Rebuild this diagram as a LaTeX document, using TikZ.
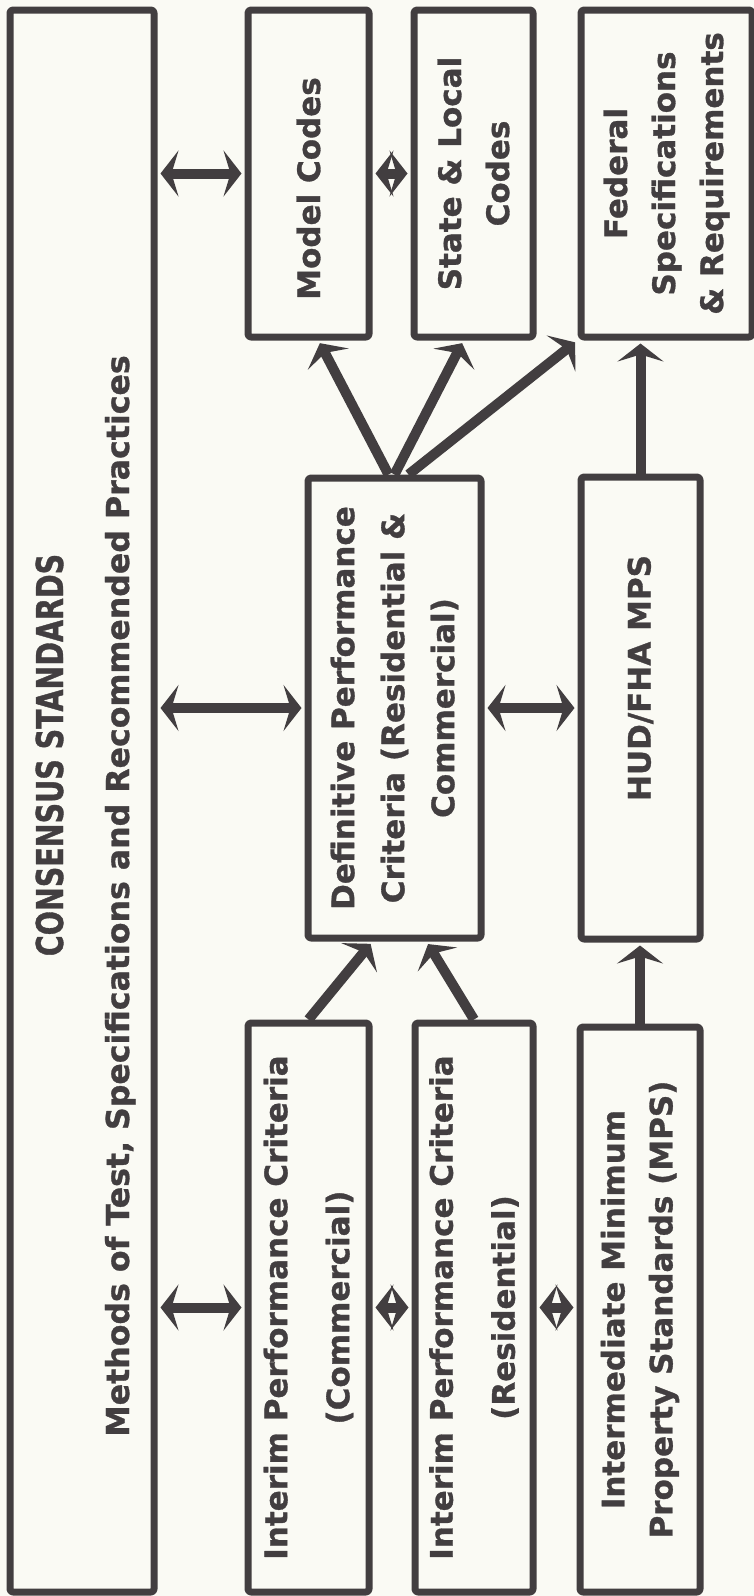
\documentclass[tikz,border=0pt]{standalone}
\usepackage{fontspec}
\setmainfont{DejaVu Sans}[FakeBold=1]
\newfontfamily\titleface{DejaVu Sans}[FakeStretch=0.77,FakeBold=1]
\usetikzlibrary{arrows.meta}
\definecolor{ink}{RGB}{66,62,64}
\definecolor{paper}{RGB}{250,250,244}
\tikzset{
	bighead/.tip={Stealth[length=9pt,width=23pt,inset=3.5pt]},
	box/.style={draw=ink,line width=3.5pt,rounded corners=1.5pt,inner sep=0pt},
	boxtext/.style={rotate=90,align=center,text=ink,inner sep=0pt,font=\bfseries\fontsize{15.5}{24}\selectfont},
	widetext/.style={boxtext,font=\bfseries\fontsize{15.5}{31}\selectfont},
	oneway/.style={draw=ink,line width=5pt,-bighead,shorten >=1.5pt},
	twoway/.style={draw=ink,line width=5pt,bighead-bighead,shorten >=1.5pt,shorten <=1.5pt}
}
\begin{document}
\begin{tikzpicture}[x=0.5pt,y=-0.5pt,line join=round]
	\useasboundingbox[fill=paper] (0,0) rectangle (754,1596);
	%		\draw (0,0) grid[step=100] (754,1596);
	
	% boxes
	\node[box,minimum width=72pt,minimum height=791pt] (cons) at (82,801) {};
	\node[box,minimum width=60.5pt,minimum height=163.5pt] (model) at (308.5,173.5) {};
	\node[box,minimum width=59.5pt,minimum height=163.5pt] (state) at (473.5,173.5) {};
	\node[box,minimum width=85.5pt,minimum height=163.5pt] (fed) at (666.5,173.5) {};
	\node[box,minimum width=86.5pt,minimum height=230pt] (defin) at (394.5,708) {};
	\node[box,minimum width=59.5pt,minimum height=231pt] (hud) at (640.5,708) {};
	\node[box,minimum width=60.5pt,minimum height=284.5pt] (icom) at (308.5,1307.5) {};
	\node[box,minimum width=59pt,minimum height=284.5pt] (ires) at (474,1307.5) {};
	\node[box,minimum width=60pt,minimum height=282.5pt] (imps) at (640,1309.5) {};
	
	% texts
	\node[boxtext,anchor=base,font=\titleface\bfseries\fontsize{18.5}{22}\selectfont] (title) at (63,755) {CONSENSUS STANDARDS};
	\node[boxtext,anchor=base,font=\bfseries\fontsize{15.8}{20}\selectfont] (subtitle) at (129,896) {Methods of Test, Specifications and Recommended Practices};
	\node[boxtext] (model-t) at ([yshift=-7.5pt]model) {Model Codes};
	\node[boxtext] (state-t) at (state) {State \& Local\\Codes};
	\node[boxtext] (fed-t) at (fed) {Federal\\Specifications\\\& Requirements};
	\node[boxtext,font=\bfseries\fontsize{15.5}{25}\selectfont] (defin-t) at (defin) {Definitive Performance\\Criteria (Residential \&\\Commercial)};
	\node[boxtext] (hud-t) at ([yshift=15pt]hud) {HUD/FHA MPS};
	\node[widetext] (icom-t) at (icom) {Interim Performance Criteria\\(Commercial)};
	\node[widetext] (ires-t) at (ires) {Interim Performance Criteria\\(Residential)};
	\node[boxtext] (imps-t) at (imps) {Intermediate Minimum\\Property Standards (MPS)};
	
	% two-way links
	\draw[twoway] (cons.east |- model.west) -- (model.west);
	\draw[twoway] (model.east) -- (state.west);
	\draw[twoway] (cons.east |- defin.west) -- (defin.west);
	\draw[twoway] (defin.east) -- (hud.west);
	\draw[twoway] (cons.east |- icom.west) -- (icom.west);
	\draw[twoway] (icom.east) -- (ires.west);
	\draw[twoway] (ires.east) -- (ires.east -| imps.west);
	
	% one-way links
	\draw[oneway] ([xshift=-3pt]defin.north) -- ([xshift=5pt]model.south);
	\draw[oneway] (defin.north) -- ([xshift=-5pt]state.south);
	\draw[oneway] ([xshift=7pt]defin.north) -- (fed.south west);
	\draw[oneway] (icom.north) -- ([xshift=-11pt]defin.south);
	\draw[oneway] (ires.north) -- ([xshift=16pt]defin.south);
	\draw[oneway] (imps.north) -- (imps.north |- hud.south);
	\draw[oneway] (hud.north) -- (hud.north |- fed.south);
\end{tikzpicture}
\end{document}
